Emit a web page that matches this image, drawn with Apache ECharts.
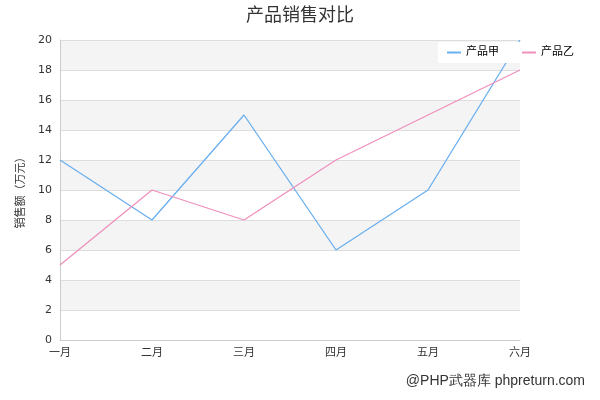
<!DOCTYPE html><html><head><meta charset="utf-8"><script src="https://cdn.jsdelivr.net/npm/echarts@6/dist/echarts.min.js"></script></head><body style="margin:0"><div id="c" style="width:600px;height:400px"></div><script>
const months=['一月','二月','三月','四月','五月','六月'];
const seriesA=[12,8,15,6,10,20];
const seriesB=[5,10,8,12,15,18];
const c=echarts.init(document.getElementById('c'));
c.setOption({
textStyle:{fontFamily:'DejaVu Sans, Noto Sans CJK SC'},
title:{text:'产品销售对比',left:'center',top:2,textStyle:{fontSize:18,fontWeight:'normal',color:'#333'}},
legend:{right:18,top:42,padding:[5,8],itemGap:22,backgroundColor:'#fff',itemWidth:14,itemHeight:2,textStyle:{fontSize:11,color:'#000'},data:['产品甲','产品乙']},
grid:{left:60,right:80,top:40,bottom:60},
xAxis:{type:'category',boundaryGap:false,data:months,axisLine:{lineStyle:{color:'#ccc'}},axisTick:{show:false},axisLabel:{color:'#333',fontSize:11}},
yAxis:{type:'value',min:0,max:20,interval:2,name:'销售额（万元）',nameLocation:'middle',nameGap:30,nameTextStyle:{color:'#333',fontSize:11},axisLine:{show:true,lineStyle:{color:'#ccc'}},axisLabel:{color:'#333',fontSize:11},splitLine:{lineStyle:{color:'#ddd'}},splitArea:{show:true,areaStyle:{color:['#fff','#f4f4f4']}}},
series:[{name:'产品甲',type:'line',data:seriesA,symbol:'none',lineStyle:{color:'#6aaff0',width:1.3},itemStyle:{color:'#6aaff0'}},
{name:'产品乙',type:'line',data:seriesB,symbol:'none',lineStyle:{color:'#f090bd',width:1.3},itemStyle:{color:'#f090bd'}}],
graphic:[{type:'text',right:15,bottom:12,style:{text:'@PHP武器库 phpreturn.com',fontSize:14,fill:'#333'}}]
});
</script></body></html>
